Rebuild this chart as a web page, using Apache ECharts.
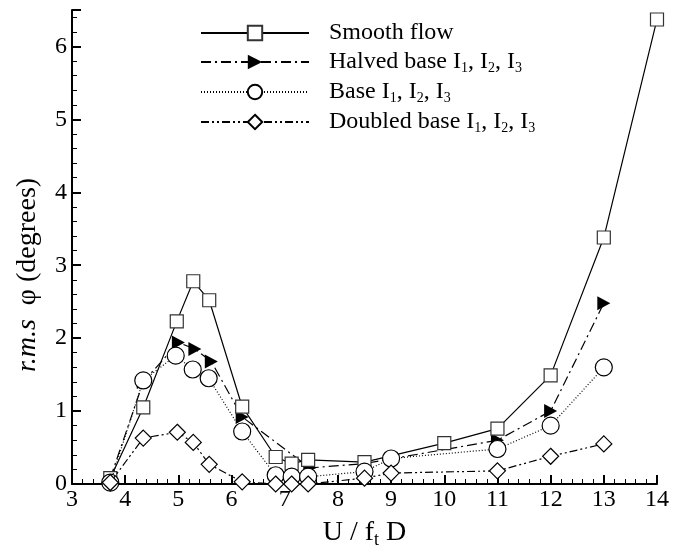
<!DOCTYPE html>
<html>
<head>
<meta charset="utf-8">
<script src="https://cdn.jsdelivr.net/npm/echarts@6/dist/echarts.min.js"></script>
<style>
  html, body { margin: 0; padding: 0; background: #fff; }
  #chart { width: 673px; height: 550px; }
</style>
</head>
<body>
<div id="chart"></div>
<script>
// values
const smoothX = [3.72, 4.34, 4.97, 5.28, 5.58, 6.2, 6.83, 7.13, 7.44, 8.5, 10, 11, 12, 13, 14]
const smoothY = [0.08, 1.05, 2.23, 2.78, 2.52, 1.06, 0.37, 0.28, 0.33, 0.30, 0.56, 0.76, 1.49, 3.38, 6.37]

const halvedX = [3.72, 4.34, 5.0, 5.31, 5.62, 6.2, 7.47, 8.5, 11, 12, 13]
const halvedY = [0.08, 1.40, 1.94, 1.85, 1.68, 0.92, 0.22, 0.28, 0.60, 1.00, 2.48]

const baseX = [3.72, 4.34, 4.95, 5.27, 5.57, 6.2, 6.83, 7.13, 7.44, 8.5, 9, 11, 12, 13]
const baseY = [0.02, 1.42, 1.76, 1.57, 1.45, 0.72, 0.12, 0.10, 0.10, 0.17, 0.35, 0.48, 0.80, 1.60]

const doubledX = [3.72, 4.34, 4.98, 5.28, 5.58, 6.2, 6.83, 7.13, 7.44, 8.5, 9, 11, 12, 13]
const doubledY = [0.02, 0.63, 0.71, 0.57, 0.27, 0.03, 0.0, 0.0, 0.0, 0.08, 0.15, 0.18, 0.38, 0.55]

const xTicks = [3, 4, 5, 6, 7, 8, 9, 10, 11, 12, 13, 14]
const yTicks = [0, 1, 2, 3, 4, 5, 6]

const legendNames = {
  'Smooth flow': 'Smooth flow',
  'Halved base': 'Halved base I{s|1}, I{s|2}, I{s|3}',
  'Base': 'Base I{s|1}, I{s|2}, I{s|3}',
  'Doubled base': 'Doubled base I{s|1}, I{s|2}, I{s|3}'
}

function pairs(xs, ys) {
  return xs.map((x, i) => [x, ys[i]])
}

const font = 'Liberation Serif'
const chart = echarts.init(document.getElementById('chart'), null, { renderer: 'canvas' })

const option = {
  backgroundColor: '#fff',
  animation: false,
  grid: {
    left: 72,
    right: 16,
    top: 10,
    bottom: 66,
    outerBoundsMode: 'none'
  },
  legend: {
    orient: 'vertical',
    left: 200,
    top: 21,
    padding: 0,
    itemWidth: 108,
    itemHeight: 18,
    itemGap: 4,
    formatter: (name) => legendNames[name],
    textStyle: {
      fontFamily: font,
      fontSize: 24,
      color: '#000',
      padding: [0, 0, 0, 15],
      lineHeight: 24,
      rich: {
        s: { fontFamily: font, fontSize: 14, color: '#000', lineHeight: 24, padding: [12, 0, 0, 0] }
      }
    }
  },
  xAxis: {
    type: 'value',
    min: 3,
    max: 14,
    interval: 1,
    name: 'U / f{s|t} D',
    nameLocation: 'middle',
    nameGap: 21,
    nameTextStyle: {
      fontFamily: font,
      fontSize: 28,
      color: '#000',
      lineHeight: 30,
      rich: {
        s: { fontFamily: font, fontSize: 18, color: '#000', lineHeight: 30, padding: [14, 0, 0, 0] }
      }
    },
    axisLine: { show: true, lineStyle: { color: '#000', width: 2 } },
    axisTick: { show: true, inside: true, length: 9, lineStyle: { color: '#000', width: 2 } },
    minorTick: { show: true, splitNumber: 5, length: 5, lineStyle: { color: '#000', width: 1 } },
    axisLabel: {
      fontFamily: font,
      fontSize: 24,
      color: '#000',
      margin: 4,
      formatter: (v) => (xTicks.includes(v) ? String(v) : '')
    },
    splitLine: { show: false }
  },
  yAxis: {
    type: 'value',
    min: 0,
    max: 6.5,
    interval: 1,
    name: '{i|r.m.s}  φ (degrees)',
    nameLocation: 'middle',
    nameGap: 30,
    nameTextStyle: {
      fontFamily: font,
      fontSize: 28,
      color: '#000',
      padding: [0, 56, 0, 0],
      rich: {
        i: { fontFamily: font, fontSize: 28, fontStyle: 'italic', color: '#000' }
      }
    },
    axisLine: { show: true, lineStyle: { color: '#000', width: 2 } },
    axisTick: { show: true, inside: true, length: 9, lineStyle: { color: '#000', width: 2 } },
    minorTick: { show: true, splitNumber: 5, length: 5, lineStyle: { color: '#000', width: 1 } },
    axisLabel: {
      fontFamily: font,
      fontSize: 24,
      color: '#000',
      margin: 5,
      showMaxLabel: false,
      formatter: (v) => (yTicks.includes(v) ? String(v) : '')
    },
    splitLine: { show: false }
  },
  series: [
    {
      name: 'Smooth flow',
      type: 'line',
      data: pairs(smoothX, smoothY),
      symbol: 'rect',
      symbolSize: 13,
      color: '#000',
      lineStyle: { color: '#000', width: 1.2, type: 'solid' },
      itemStyle: { color: '#fff', borderColor: '#333', borderWidth: 1.2 },
      z: 4
    },
    {
      name: 'Halved base',
      type: 'line',
      data: pairs(halvedX, halvedY),
      symbol: 'path://M0,0 L10,5 L0,10 Z',
      symbolSize: [13, 14],
      color: '#000',
      lineStyle: { color: '#000', width: 1.2, type: [10, 4, 2, 4] },
      itemStyle: { color: '#000', borderWidth: 0 },
      z: 3
    },
    {
      name: 'Base',
      type: 'line',
      data: pairs(baseX, baseY),
      symbol: 'circle',
      symbolSize: 17,
      color: '#000',
      lineStyle: { color: '#000', width: 1.2, type: [1, 2] },
      itemStyle: { color: '#fff', borderColor: '#000', borderWidth: 1.2 },
      z: 5
    },
    {
      name: 'Doubled base',
      type: 'line',
      data: pairs(doubledX, doubledY),
      symbol: 'diamond',
      symbolSize: 16,
      color: '#000',
      lineStyle: { color: '#000', width: 1.2, type: [8, 3, 2, 3, 2, 3] },
      itemStyle: { color: '#fff', borderColor: '#000', borderWidth: 1.2 },
      z: 6
    }
  ]
}

chart.setOption(option)
</script>
</body>
</html>
